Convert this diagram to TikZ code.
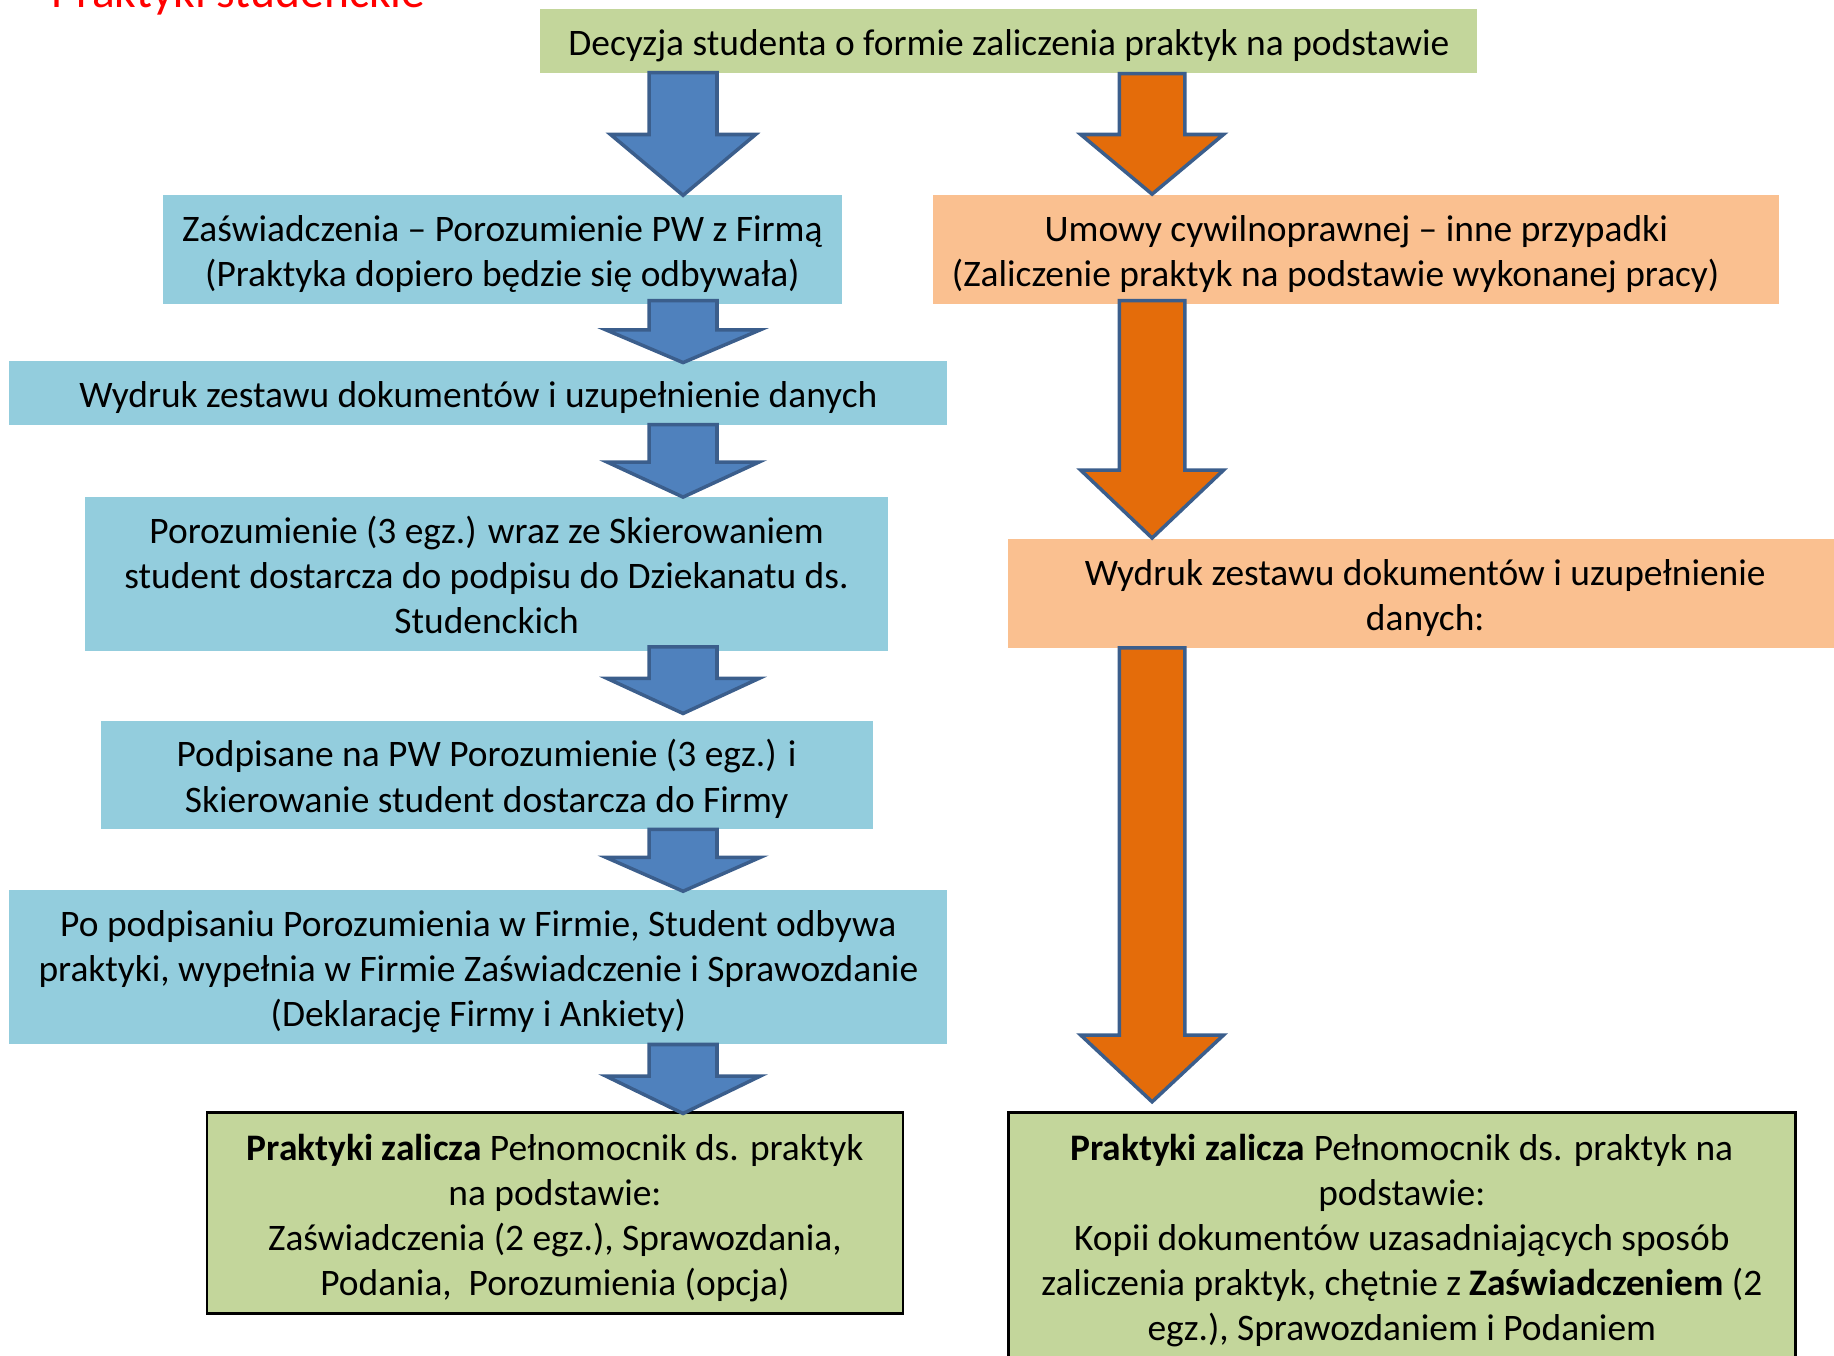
\documentclass[tikz,border=0pt]{standalone}
\usepackage{fontspec}
\setmainfont{Carlito}
\definecolor{boxgreen}{HTML}{C3D69B}
\definecolor{boxblue}{HTML}{93CDDD}
\definecolor{boxorange}{HTML}{FAC090}
\definecolor{arrblue}{HTML}{4F81BD}
\definecolor{arrline}{HTML}{3B5E8C}
\definecolor{arrorange}{HTML}{E46C0A}
\newcommand{\BArrow}[7]{% #1 style, #2 x, #3 top, #4 head y, #5 tip y, #6 half body, #7 half head
  \draw[#1] ({#2-#6},#3) -- ({#2+#6},#3) -- ({#2+#6},#4) -- ({#2+#7},#4) -- (#2,#5)
    -- ({#2-#7},#4) -- ({#2-#6},#4) -- cycle;}
\newcommand{\tstrut}{\rule{0pt}{17pt}}
\tikzset{
  box/.style={rectangle, inner sep=0pt, align=center, font=\fontsize{16}{19.25}\selectfont, text=black,
    execute at end node={\rule[-4.5pt]{0pt}{0pt}}},
  gbox/.style={box, fill=boxgreen},
  bbox/.style={box, fill=boxblue},
  obox/.style={box, fill=boxorange},
  fbox/.style={box, fill=boxgreen, draw=black, line width=1.25pt},
  barr/.style={fill=arrblue, draw=arrline, line width=1.5pt, line join=miter},
  oarr/.style={fill=arrorange, draw=arrline, line width=1.5pt, line join=miter},
}
\begin{document}
\begin{tikzpicture}[x=0.5pt,y=-0.5pt]
\useasboundingbox (0,0) rectangle (1568,1159.3);
\clip (0,0) rectangle (1568,1159.3);
% title
\node[anchor=base west, inner sep=0pt, text=red, font=\fontsize{20.3}{24}\selectfont] (title) at (44,6.5) {Praktyki studenckie};
% boxes
\node[gbox, minimum width=400.5pt, minimum height=27pt] (top) at (862.5,35) {\tstrut Decyzja studenta o formie zaliczenia praktyk na podstawie};
\node[bbox, minimum width=290.5pt, minimum height=46.5pt] (zas) at (429.5,213.5) {\tstrut Zaświadczenia – Porozumienie PW z Firmą\\(Praktyka dopiero będzie się odbywała)};
\node[obox, minimum width=361.5pt, minimum height=46.5pt] (umowy) at (1159.5,213.5) {\tstrut Umowy cywilnoprawnej – inne przypadki\\\hspace*{-1.1em}(Zaliczenie praktyk na podstawie wykonanej pracy)};
\node[bbox, minimum width=401pt, minimum height=27pt] (wyd) at (409,336) {\tstrut Wydruk zestawu dokumentów i uzupełnienie danych};
\node[bbox, minimum width=343pt, minimum height=66pt] (poro) at (416,491) {\tstrut Porozumienie (3 egz.) wraz ze Skierowaniem\\student dostarcza do podpisu do Dziekanatu ds.\\Studenckich};
\node[bbox, minimum width=330pt, minimum height=46.5pt] (podp) at (416,662.5) {\tstrut Podpisane na PW Porozumienie (3 egz.) i\\Skierowanie student dostarcza do Firmy};
\node[bbox, minimum width=401pt, minimum height=66pt] (popod) at (409,827) {\tstrut Po podpisaniu Porozumienia w Firmie, Student odbywa\\praktyki, wypełnia w Firmie Zaświadczenie i Sprawozdanie\\(Deklarację Firmy i Ankiety)};
\node[fbox, minimum width=297.5pt, minimum height=86pt] (zalL) at (474.5,1037) {\tstrut\textbf{Praktyki zalicza} Pełnomocnik ds. praktyk\\na podstawie:\\Zaświadczenia (2 egz.), Sprawozdania,\\Podania,~ Porozumienia (opcja)};
\node[obox, minimum width=356.5pt, minimum height=46.5pt] (wydR) at (1218.5,507.5) {\tstrut Wydruk zestawu dokumentów i uzupełnienie\\danych:};
\node[fbox, minimum width=336.5pt, minimum height=105.5pt] (zalR) at (1198.5,1056.5) {\tstrut\textbf{Praktyki zalicza} Pełnomocnik ds. praktyk na\\podstawie:\\Kopii dokumentów uzasadniających sposób\\zaliczenia praktyk, chętnie z \textbf{Zaświadczeniem} (2\\egz.), Sprawozdaniem i Podaniem};
% blue arrows
\BArrow{barr}{584}{62}{115}{167}{29}{62}
\BArrow{barr}{584}{257}{282}{310}{29}{66}
\BArrow{barr}{584}{363}{395}{425}{29}{65}
\BArrow{barr}{584}{553}{580}{610}{29}{65}
\BArrow{barr}{584}{709}{733}{762}{29}{66}
\BArrow{barr}{584}{893}{920}{952}{29}{66}
% orange arrows
\BArrow{oarr}{985}{63}{115}{166}{28}{61}
\BArrow{oarr}{985}{257}{402}{460}{28}{61}
\BArrow{oarr}{985}{554}{885}{942}{28}{61}
\end{tikzpicture}
\end{document}
